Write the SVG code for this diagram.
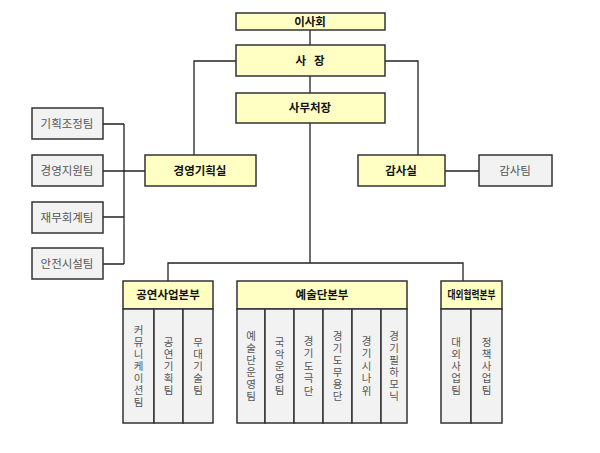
<svg xmlns="http://www.w3.org/2000/svg" width="600" height="453" viewBox="0 0 600 453">
<style>
.y{fill:#FFFFC4;stroke:#333;stroke-width:1.5}
.g{fill:#F2F2F2;stroke:#333;stroke-width:1.5}
.h{font-family:"Noto Sans CJK KR",sans-serif;font-size:11.5px;font-weight:bold;fill:#111;text-anchor:middle}
.t{font-family:"Noto Sans CJK KR",sans-serif;font-size:11.5px;fill:#555;text-anchor:middle}
.v{font-family:"Noto Sans CJK KR",sans-serif;font-size:10.5px;fill:#555;text-anchor:middle;writing-mode:vertical-rl;letter-spacing:1.5px}
.l{fill:none;stroke:#222;stroke-width:1.3}
</style>
<rect width="600" height="453" fill="#fff"/>
<g id="connectors">
<path class="l" d="M310 30V45M310 76V93M310 123V263M385 61H418V155M236 61H194V155M145 171H103M124 124V264M103 124H124M103 217H124M103 264H124M445 171H479M168 281V263H463V281"/>
</g>
<g id="board"><rect class="y" x="236" y="13" width="149" height="17"/><text class="h" x="310" y="26">이사회</text></g>
<g id="president"><rect class="y" x="236" y="45" width="149" height="31"/><text class="h" x="310" y="65" xml:space="preserve">사   장</text></g>
<g id="secgen"><rect class="y" x="236" y="93" width="149" height="30"/><text class="h" x="310" y="112">사무처장</text></g>
<g id="planning"><rect class="y" x="145" y="155" width="111" height="31"/><text class="h" x="200" y="175">경영기획실</text></g>
<g id="audit"><rect class="y" x="358" y="155" width="87" height="31"/><text class="h" x="401" y="175">감사실</text></g>
<g id="auditteam"><rect class="g" x="479" y="155" width="73" height="31"/><text class="t" x="515" y="175">감사팀</text></g>
<g id="team1"><rect class="g" x="32" y="108" width="71" height="31"/><text class="t" x="67" y="128">기획조정팀</text></g>
<g id="team2"><rect class="g" x="32" y="155" width="71" height="31"/><text class="t" x="67" y="175">경영지원팀</text></g>
<g id="team3"><rect class="g" x="32" y="202" width="71" height="31"/><text class="t" x="67" y="222">재무회계팀</text></g>
<g id="team4"><rect class="g" x="32" y="248" width="71" height="31"/><text class="t" x="67" y="268">안전시설팀</text></g>

<g id="perf">
<rect class="y" x="123" y="281" width="90" height="28"/><text class="h" x="168" y="299">공연사업본부</text>
<rect class="g" x="123" y="309" width="31" height="114"/><rect class="g" x="154" y="309" width="29" height="114"/><rect class="g" x="183" y="309" width="30" height="114"/>
<text class="v" x="138.5" y="367">커뮤니케이션팀</text>
<text class="v" x="168.5" y="367">공연기획팀</text>
<text class="v" x="198" y="367">무대기술팀</text>
</g>
<g id="arts">
<rect class="y" x="237" y="281" width="170" height="28"/><text class="h" x="322" y="299">예술단본부</text>
<rect class="g" x="237" y="309" width="28" height="114"/><rect class="g" x="265" y="309" width="29" height="114"/><rect class="g" x="294" y="309" width="29" height="114"/><rect class="g" x="323" y="309" width="29" height="114"/><rect class="g" x="352" y="309" width="29" height="114"/><rect class="g" x="381" y="309" width="26" height="114"/>
<text class="v" x="251" y="367">예술단운영팀</text>
<text class="v" x="279.5" y="367">국악운영팀</text>
<text class="v" x="308.5" y="367" style="letter-spacing:2px">경기도극단</text>
<text class="v" x="337.5" y="367">경기도무용단</text>
<text class="v" x="366.5" y="367" style="letter-spacing:2px">경기시나위</text>
<text class="v" x="394" y="367">경기필하모닉</text>
</g>
<g id="ext">
<rect class="y" x="441" y="281" width="61" height="28"/><text class="h" x="471.5" y="299" textLength="48" lengthAdjust="spacingAndGlyphs">대외협력본부</text>
<rect class="g" x="441" y="309" width="30" height="114"/><rect class="g" x="471" y="309" width="31" height="114"/>
<text class="v" x="456" y="367">대외사업팀</text>
<text class="v" x="486.5" y="367">정책사업팀</text>
</g>
</svg>
